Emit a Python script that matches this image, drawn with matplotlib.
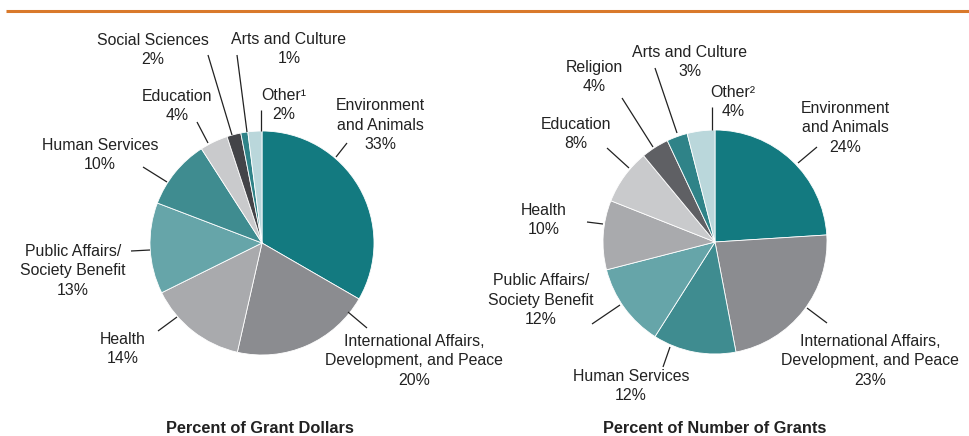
import matplotlib
matplotlib.use("Agg")
import matplotlib.pyplot as plt

# ---------------- data ----------------
left_labels = ["Environment\nand Animals", "International Affairs,\nDevelopment, and Peace", "Health",
               "Public Affairs/\nSociety Benefit", "Human Services", "Education",
               "Social Sciences", "Arts and Culture", "Other\u00b9"]
left_values = [33, 20, 14, 13, 10, 4, 2, 1, 2]

right_labels = ["Environment\nand Animals", "International Affairs,\nDevelopment, and Peace", "Human Services",
                "Public Affairs/\nSociety Benefit", "Health", "Education",
                "Religion", "Arts and Culture", "Other\u00b2"]
right_values = [24, 23, 12, 12, 10, 8, 4, 3, 4]

left_title = "Percent of Grant Dollars"
right_title = "Percent of Number of Grants"

# ---------------- style ----------------
C_ENV = "#137a80"
C_INTL = "#8b8c90"
C_HEALTH = "#a9aaad"
C_PUB = "#66a5a9"
C_HUM = "#3f8c90"
C_EDU = "#c9cacc"
C_SOC = "#434448"
C_REL = "#5f6064"
C_ARTS = "#2f8388"
C_OTH = "#bad7db"

left_colors = [C_ENV, C_INTL, C_HEALTH, C_PUB, C_HUM, C_EDU, C_SOC, C_ARTS, C_OTH]
right_colors = [C_ENV, C_INTL, C_HUM, C_PUB, C_HEALTH, C_EDU, C_REL, C_ARTS, C_OTH]

FONT = ["Liberation Sans Narrow", "Liberation Sans", "DejaVu Sans"]
W, H = 969, 436

# layout (pixel coords, top-down): text centre, leader start, leader end
left_layout = [
    ((380, 125), (336, 157), (347, 143)),
    ((414, 361), (348, 312), (367, 328)),
    ((123, 349), (177, 317), (158, 331)),
    ((73, 271), (150, 250), (131, 251)),
    ((100, 155), (167, 182), (143, 167)),
    ((177, 106), (208, 143), (197, 122)),
    ((153, 50), (232, 135), (208, 55)),
    ((289, 49), (247, 132), (237, 55)),
    ((284, 105), (261, 131), (261, 110)),
]
right_layout = [
    ((845, 128), (798, 163), (817, 147)),
    ((870, 361), (807, 308), (827, 323)),
    ((631, 386), (670, 347), (663, 367)),
    ((541, 300), (620, 305), (592, 324)),
    ((544, 220), (603, 224), (587, 222)),
    ((576, 134), (629, 168), (607, 148)),
    ((594, 77), (653, 147), (622, 98)),
    ((690, 62), (677, 133), (655, 68)),
    ((733, 102), (712, 130), (712, 107)),
]

fig = plt.figure(figsize=(W / 100, H / 100), dpi=100)
ax = fig.add_axes([0, 0, 1, 1])


def Y(y):
    return H - y


def draw(values, colors, labels, layout, center, radius, title, tx):
    ax.pie(values, colors=colors, startangle=90, counterclock=False,
           center=(center[0], Y(center[1])), radius=radius,
           wedgeprops=dict(edgecolor="white", linewidth=0.6))
    for v, lab, (tpos, p0, p1) in zip(values, labels, layout):
        ax.plot([p0[0], p1[0]], [Y(p0[1]), Y(p1[1])], color="#222222", lw=0.9,
                solid_capstyle="butt")
        ax.text(tpos[0], Y(tpos[1]), f"{lab}\n{v}%", ha="center", va="center",
                fontsize=11.4, family=FONT, color="#222222", linespacing=1.4)
    ax.text(tx, Y(428), title, ha="center", va="center", fontsize=11.8,
            fontweight="bold", family=FONT, color="#222222")


draw(left_values, left_colors, left_labels, left_layout, (262, 243), 112, left_title, 260)
draw(right_values, right_colors, right_labels, right_layout, (715, 242), 112, right_title, 715)

ax.plot([6, W], [Y(11), Y(11)], color="#d9792b", lw=2.2, solid_capstyle="butt")

ax.set_xlim(0, W)
ax.set_ylim(0, H)
ax.set_aspect("equal")
ax.axis("off")

fig.savefig("out.png", dpi=100, facecolor="white")
